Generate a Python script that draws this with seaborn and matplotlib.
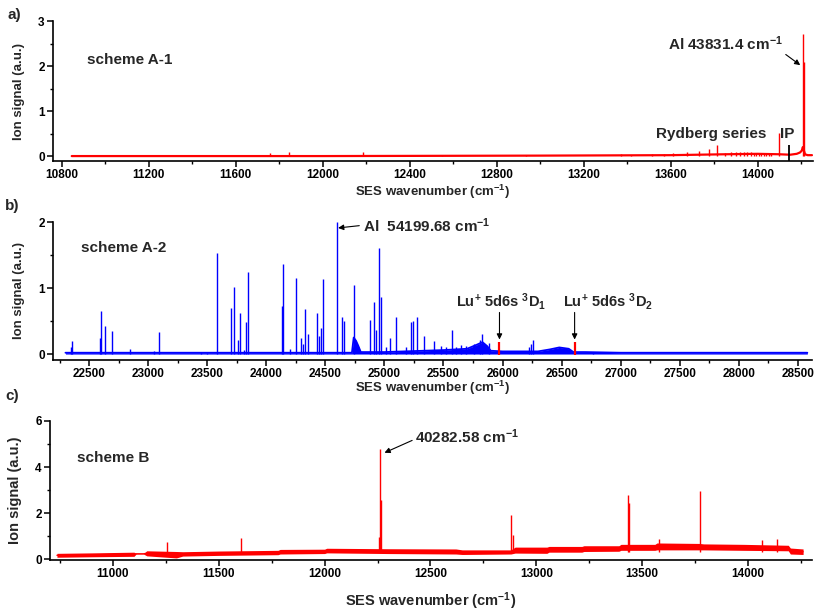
import matplotlib
matplotlib.use('Agg')
import matplotlib.pyplot as plt
from matplotlib.ticker import MultipleLocator
import seaborn as sns

# ---- panel a) scheme A-1 (red) ----
a_base_x = [10846, 11000, 12000, 13000, 13600, 13850, 14000, 14100, 14150, 14180, 14195, 14203, 14208, 14218, 14230, 14250]
a_base_y = [0.0, 0.0, 0.0, 0.01, 0.02, 0.04, 0.05, 0.04, 0.03, 0.05, 0.08, 0.12, 0.2, 0.04, 0.02, 0.02]
a_peak_x = [11300, 11513, 11756, 11844, 12184, 12550, 12937, 13370, 13420, 13515, 13569, 13610,
            13677, 13731, 13776, 13815, 13848, 13879, 13899, 13917, 13936, 13953, 13968, 13982,
            13994, 14006, 14017, 14028, 14040, 14052, 14063, 14098, 14211, 14213]
a_peak_y = [0.02, 0.03, 0.07, 0.08, 0.08, 0.03, 0.02, 0.05, 0.03, 0.04, 0.05, 0.07,
            0.1, 0.12, 0.15, 0.25, 0.07, 0.09, 0.08, 0.09, 0.09, 0.08, 0.08, 0.07,
            0.07, 0.07, 0.06, 0.06, 0.06, 0.05, 0.05, 0.52, 2.71, 2.1]
a_ip = 14143

# ---- panel b) scheme A-2 (blue) ----
b_base_x = [22300, 22500, 23000, 23500, 24000, 24500, 24725, 24740, 24760, 24780, 24800, 25000,
            25500, 25700, 25780, 25830, 25870, 25900, 26000, 26300, 26400, 26480, 26560, 26600,
            26700, 27000, 28000, 28580]
b_base_y = [0.02, 0.02, 0.02, 0.02, 0.02, 0.02, 0.02, 0.25, 0.2, 0.12, 0.03, 0.03,
            0.06, 0.08, 0.14, 0.18, 0.12, 0.05, 0.04, 0.04, 0.07, 0.1, 0.08, 0.03,
            0.03, 0.02, 0.02, 0.02]
b_peak_x = [22350, 22359, 22596, 22599, 22633, 22695, 22845, 23048, 23093, 23449, 23500,
            23587, 23700, 23723, 23763, 23777, 23810, 23828, 23845, 24135, 24138, 24203,
            24254, 24294, 24310, 24331, 24353, 24430, 24450, 24464, 24480, 24599, 24641,
            24655, 24740, 24875, 24910, 24932, 24952, 24969, 25010, 25045, 25102, 25186,
            25229, 25240, 25276, 25333, 25418, 25480, 25520, 25568, 25610, 25645, 25688,
            25760, 25810, 25828, 25885, 26220, 26240, 26257, 26763]
b_peak_y = [0.1, 0.2, 0.25, 0.65, 0.42, 0.35, 0.08, 0.05, 0.33, 0.03, 0.02,
            1.53, 0.69, 1.02, 0.21, 0.62, 0.06, 0.48, 1.25, 0.73, 1.37, 0.07,
            1.15, 0.24, 0.15, 0.68, 0.3, 0.62, 0.28, 0.4, 1.14, 2.0, 0.56,
            0.5, 1.05, 0.52, 0.79, 0.37, 1.6, 0.87, 0.1, 0.24, 0.56, 0.1,
            0.49, 0.5, 0.56, 0.28, 0.2, 0.12, 0.1, 0.37, 0.1, 0.13, 0.12,
            0.15, 0.22, 0.3, 0.17, 0.1, 0.15, 0.22, 0.03]
b_lu_x = [25974, 26610]
b_lu_labels = [r'Lu$^{+}$ 5d6s $^{3}$D$_{1}$', r'Lu$^{+}$ 5d6s $^{3}$D$_{2}$']
b_lu_text_x = [25610, 26514]

# ---- panel c) scheme B (red, noisy baseline) ----
c_base_x = [10736, 10900, 11100, 11110, 11145, 11160, 11300, 11330, 11500, 11780, 11790, 12000,
            12010, 12300, 12620, 12650, 12880, 12900, 13050, 13060, 13215, 13225, 13390, 13400,
            13560, 13570, 13770, 13790, 13980, 14190, 14200, 14260]
c_base_lo = [0.08, 0.1, 0.12, 0.22, 0.22, 0.14, 0.05, 0.13, 0.16, 0.19, 0.22, 0.24,
             0.27, 0.24, 0.22, 0.2, 0.22, 0.26, 0.25, 0.3, 0.3, 0.33, 0.34, 0.38,
             0.38, 0.4, 0.4, 0.4, 0.38, 0.36, 0.22, 0.2]
c_base_hi = [0.25, 0.27, 0.3, 0.24, 0.24, 0.36, 0.33, 0.32, 0.35, 0.38, 0.42, 0.43,
             0.47, 0.45, 0.44, 0.4, 0.4, 0.52, 0.52, 0.55, 0.55, 0.58, 0.58, 0.64,
             0.64, 0.7, 0.68, 0.66, 0.64, 0.6, 0.48, 0.44]
c_peak_x = [11255, 11604, 12258, 12264, 12268, 12882, 12890, 13434, 13437, 13580, 13774, 14064, 14138]
c_peak_y = [0.76, 0.91, 0.94, 4.8, 2.57, 1.9, 1.05, 2.8, 2.42, 0.87, 2.96, 0.84, 0.87]

sns.set_style('ticks')
plt.rcParams['font.family'] = ['Liberation Sans', 'DejaVu Sans']
plt.rcParams['font.weight'] = 'bold'
plt.rcParams['axes.labelweight'] = 'bold'
plt.rcParams['mathtext.fontset'] = 'custom'
plt.rcParams['mathtext.rm'] = 'Liberation Sans:bold'
plt.rcParams['mathtext.bf'] = 'Liberation Sans:bold'
plt.rcParams['mathtext.default'] = 'bf'

fig = plt.figure(figsize=(8.3, 6.16), dpi=100)
ax_a = fig.add_axes([0.0639, 0.7386, 0.9157, 0.2273])
ax_b = fig.add_axes([0.0639, 0.4156, 0.9145, 0.2240])
ax_c = fig.add_axes([0.0602, 0.0909, 0.9181, 0.2257])

red, blue = '#ff0000', '#0000ff'
xlab = 'SES wavenumber (cm$^{-1}$)'

# a)
sns.lineplot(x=a_base_x, y=a_base_y, ax=ax_a, color=red, lw=1.6, estimator=None)
ax_a.vlines(a_peak_x, 0, a_peak_y, color=red, lw=1.0)
ax_a.vlines(a_ip, -0.11, 0.25, color='black', lw=1.3)
ax_a.set_xlim(10760, 14255)
ax_a.set_ylim(-0.11, 3)
ax_a.xaxis.set_major_locator(MultipleLocator(400))
ax_a.xaxis.set_minor_locator(MultipleLocator(200))
ax_a.yaxis.set_major_locator(MultipleLocator(1))
ax_a.yaxis.set_minor_locator(MultipleLocator(0.5))
ax_a.text(10915, 2.13, 'scheme A-1', fontsize=11, va='center')
ax_a.annotate('Al 43831.4 cm$^{-1}$', xy=(14196, 2.02), xytext=(13586, 2.49), fontsize=11, va='center',
              arrowprops=dict(arrowstyle='-|>', color='black', lw=0.8, mutation_scale=8,
                              shrinkA=0, shrinkB=0, relpos=(0.97, 0.2)))
ax_a.text(13534, 0.48, 'Rydberg series', fontsize=11, va='center')
ax_a.text(14101, 0.48, 'IP', fontsize=11, va='center')

# b)
ax_b.fill_between(b_base_x, 0, b_base_y, color=blue, lw=0)
sns.lineplot(x=b_base_x, y=b_base_y, ax=ax_b, color=blue, lw=1.3, estimator=None)
ax_b.vlines(b_peak_x, 0, b_peak_y, color=blue, lw=1.0)
ax_b.vlines(b_lu_x, -0.02, 0.19, color=red, lw=1.6)
for xl, lab, xt in zip(b_lu_x, b_lu_labels, b_lu_text_x):
    ax_b.annotate('', xy=(xl, 0.22), xytext=(xl, 0.63),
                  arrowprops=dict(arrowstyle='-|>', color='black', lw=0.8, mutation_scale=8,
                                  shrinkA=0, shrinkB=0))
    ax_b.text(xt, 0.8, lab, fontsize=10.5, va='center')
ax_b.set_xlim(22195, 28620)
ax_b.set_ylim(-0.09, 2)
ax_b.xaxis.set_major_locator(MultipleLocator(500))
ax_b.xaxis.set_minor_locator(MultipleLocator(250))
ax_b.yaxis.set_major_locator(MultipleLocator(1))
ax_b.yaxis.set_minor_locator(MultipleLocator(0.5))
ax_b.text(22432, 1.6, 'scheme A-2', fontsize=11, va='center')
ax_b.annotate('Al  54199.68 cm$^{-1}$', xy=(24608, 1.91), xytext=(24815, 1.95), fontsize=11, va='center',
              arrowprops=dict(arrowstyle='-|>', color='black', lw=0.8, mutation_scale=8,
                              shrinkA=0, shrinkB=0, relpos=(0, 0.5)))

# c)
ax_c.fill_between(c_base_x, c_base_lo, c_base_hi, color=red, lw=0)
sns.lineplot(x=c_base_x, y=[(lo + hi) / 2 for lo, hi in zip(c_base_lo, c_base_hi)],
             ax=ax_c, color=red, lw=1.0, estimator=None)
ax_c.vlines(c_peak_x, 0.3, c_peak_y, color=red, lw=1.0)
ax_c.set_xlim(10703, 14302)
ax_c.set_ylim(-0.04, 6)
ax_c.xaxis.set_major_locator(MultipleLocator(500))
ax_c.xaxis.set_minor_locator(MultipleLocator(250))
ax_c.yaxis.set_major_locator(MultipleLocator(2))
ax_c.yaxis.set_minor_locator(MultipleLocator(1))
ax_c.text(10830, 4.39, 'scheme B', fontsize=11, va='center')
ax_c.annotate('40282.58 cm$^{-1}$', xy=(12283, 4.62), xytext=(12429, 5.3), fontsize=11, va='center',
              arrowprops=dict(arrowstyle='-|>', color='black', lw=0.8, mutation_scale=8,
                              shrinkA=0, shrinkB=0, relpos=(0, 0.4)))

for ax, lsize, pad in [(ax_a, 9.5, 1), (ax_b, 9.5, -1), (ax_c, 10.5, 7)]:
    sns.despine(ax=ax)
    for s in ('left', 'bottom'):
        ax.spines[s].set_linewidth(1.2)
        ax.spines[s].set_color('black')
    ax.tick_params(which='major', direction='out', length=4, width=1.1, labelsize=8.5, pad=2, colors='black')
    ax.tick_params(which='minor', direction='out', length=2.5, width=1.0, colors='black')
    ax.set_xlabel(xlab, fontsize=lsize, labelpad=pad)
    ax.set_ylabel('Ion signal (a.u.)', fontsize=lsize)
    ax.yaxis.set_label_coords(-0.037, 0.5)
    ax.set_facecolor('white')

fig.text(7 / 830, 1 - 15 / 616, 'a)', fontsize=11, va='center')
fig.text(5 / 830, 1 - 206 / 616, 'b)', fontsize=11, va='center')
fig.text(5 / 830, 1 - 396 / 616, 'c)', fontsize=11, va='center')

fig.savefig('out.png', dpi=100, facecolor='white')
